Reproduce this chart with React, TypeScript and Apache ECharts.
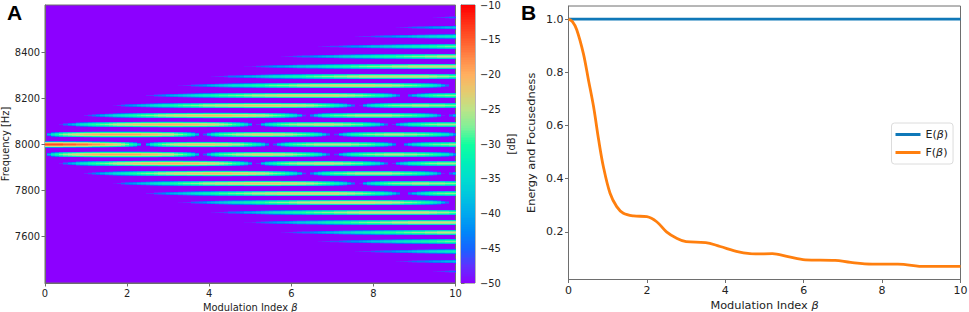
import React, { useEffect, useRef } from "react";
import * as echarts from "echarts";

// Levels [dB]: one list per sideband order |n| (the plot is mirrored about the
// carrier), one value per 0.1 step of beta. Estimated from the colours, the lobe positions and gaps.
const below = (count: number): number[] => new Array(count).fill(-50);

const order0 = [-14,-14,-14,-14,-14,-15,-15,-15,-16,-16,-16,
  -17,-18,-18,-19,-20,-21,-22,-23,-25,-27,
  -30,-33,-39,-50,-40,-34,-31,-29,-27,-26,
  -25,-24,-23,-23,-22,-22,-22,-22,-22,-22,
  -22,-23,-23,-23,-24,-25,-25,-26,-28,-29,
  -31,-33,-36,-42,-50,-45,-38,-35,-32,-30,
  -29,-28,-27,-26,-26,-25,-25,-25,-25,-25,
  -25,-25,-25,-25,-26,-26,-27,-27,-28,-29,
  -31,-32,-34,-37,-42,-50,-50,-42,-38,-35,
  -33,-31,-30,-29,-28,-28,-27,-27,-26,-26];
const order1 = [-50,-40,-34,-31,-28,-26,-25,-24,-23,-22,-21,
  -21,-20,-20,-19,-19,-19,-19,-19,-19,-19,
  -19,-19,-19,-20,-20,-21,-21,-22,-23,-23,
  -24,-26,-27,-29,-31,-34,-39,-50,-45,-38,
  -34,-31,-29,-28,-27,-26,-25,-25,-24,-24,
  -23,-23,-23,-23,-23,-24,-24,-24,-25,-25,
  -26,-27,-28,-29,-30,-32,-34,-38,-43,-50,
  -46,-39,-36,-33,-31,-30,-29,-28,-27,-27,
  -26,-26,-25,-25,-25,-25,-25,-26,-26,-26,
  -27,-27,-28,-29,-30,-31,-33,-34,-37,-41];
const order2 = [...below(4),-48,-44,-41,-39,-36,-34,-33,
  -31,-30,-29,-28,-27,-26,-25,-24,-24,-23,
  -23,-22,-22,-21,-21,-21,-21,-20,-20,-20,
  -20,-20,-20,-21,-21,-21,-21,-22,-22,-23,
  -23,-24,-25,-26,-27,-29,-30,-33,-36,-41,
  -50,-47,-39,-35,-33,-31,-29,-28,-27,-26,
  -26,-25,-25,-25,-25,-24,-24,-24,-24,-24,
  -25,-25,-26,-26,-27,-28,-28,-30,-31,-33,
  -35,-39,-44,-50,-47,-40,-37,-35,-32,-31,
  -30,-29,-28,-27,-27,-26,-26,-26,-26,-26];
const order3 = [...below(10),-48,
  -46,-44,-42,-40,-38,-37,-35,-34,-33,-32,
  -31,-30,-29,-28,-27,-27,-26,-25,-25,-24,
  -24,-23,-23,-23,-22,-22,-22,-22,-21,-21,
  -21,-21,-21,-21,-21,-22,-22,-22,-22,-23,
  -23,-24,-24,-25,-26,-27,-28,-29,-31,-33,
  -35,-39,-46,-50,-43,-38,-35,-32,-31,-29,
  -28,-28,-27,-26,-26,-25,-25,-25,-25,-25,
  -25,-25,-25,-25,-26,-26,-27,-28,-28,-29,
  -30,-31,-33,-35,-37,-41,-48,-50,-44,-39];
const order4 = [...below(17),-49,-47,-45,-43,
  -42,-41,-39,-38,-37,-35,-34,-33,-32,-32,
  -31,-30,-29,-28,-28,-27,-27,-26,-25,-25,
  -25,-24,-24,-24,-23,-23,-23,-23,-22,-22,
  -22,-22,-22,-22,-22,-22,-22,-23,-23,-23,
  -23,-24,-24,-25,-25,-26,-27,-28,-29,-30,
  -32,-34,-36,-40,-44,-50,-48,-40,-36,-34,
  -32,-30,-29,-28,-27,-27,-26,-26,-26,-25,
  -25,-25,-25,-26,-26,-26,-26,-27,-27,-27];
const order5 = [...below(25),-48,-47,-45,-44,-43,-41,
  -40,-39,-38,-37,-36,-35,-34,-33,-32,-32,
  -31,-30,-29,-29,-28,-28,-27,-27,-26,-26,
  -25,-25,-25,-24,-24,-24,-23,-23,-23,-23,
  -23,-23,-23,-23,-23,-23,-23,-23,-23,-23,
  -23,-24,-24,-25,-25,-26,-26,-27,-28,-29,
  -30,-31,-33,-35,-38,-42,-50,-50,-43,-39,
  -36,-34,-32,-30,-29,-28,-28,-27,-27,-27];
const order6 = [...below(33),-49,-48,-47,-45,-44,-43,-42,-40,
  -39,-38,-37,-36,-35,-34,-34,-33,-32,-32,
  -31,-30,-30,-29,-28,-28,-27,-27,-27,-26,
  -26,-25,-25,-25,-24,-24,-24,-24,-24,-23,
  -23,-23,-23,-23,-23,-23,-23,-23,-23,-23,
  -24,-24,-24,-24,-25,-25,-26,-27,-27,-28,
  -29,-30,-31,-32,-34,-36,-40,-44,-50,-50];
const order7 = [...below(41),-49,-48,-47,-46,-44,-44,-43,-42,-40,-40,
  -39,-38,-37,-36,-35,-34,-34,-33,-32,-32,
  -31,-31,-30,-29,-29,-28,-28,-27,-27,-27,
  -26,-26,-26,-25,-25,-25,-24,-24,-24,-24,
  -24,-24,-24,-24,-24,-24,-24,-24,-24,-24,
  -24,-24,-24,-25,-25,-26,-26,-26,-27,-27];
const order8 = [...below(49),-49,-49,
  -48,-46,-45,-44,-43,-42,-41,-41,-40,-39,
  -38,-37,-37,-36,-35,-35,-34,-33,-32,-32,
  -31,-31,-30,-30,-29,-29,-28,-28,-27,-27,
  -27,-26,-26,-26,-25,-25,-25,-25,-24,-24,
  -24,-24,-24,-24,-24,-24,-24,-24,-24,-24];
const order9 = [...below(57),-50,-49,-48,-47,
  -46,-45,-44,-44,-43,-42,-41,-40,-39,-39,
  -38,-37,-36,-36,-35,-34,-34,-33,-33,-32,
  -31,-31,-30,-30,-30,-29,-29,-28,-28,-27,
  -27,-27,-26,-26,-26,-25,-25,-25,-25,-25];
const order10 = [...below(67),-49,-48,-47,-46,
  -46,-45,-44,-43,-42,-42,-41,-40,-39,-38,
  -38,-37,-36,-36,-35,-34,-34,-33,-33,-32,
  -32,-31,-31,-30,-30,-29,-29,-28,-28,-28];
const order11 = [...below(76),-49,-48,-47,-47,-46,
  -45,-44,-43,-43,-42,-41,-40,-40,-39,-38,
  -37,-37,-36,-35,-35,-34,-34,-33,-33,-32];
const order12 = [...below(86),-49,-48,-47,-46,-45,
  -44,-44,-43,-42,-41,-41,-40,-39,-39,-38];
const order13 = [...below(95),-49,-48,-47,-46,-45,-45];
const sidebandLevels = [order0, order1, order2, order3, order4, order5, order6, order7,
  order8, order9, order10, order11, order12, order13];

const betaStep = 0.1;
const carrierHz = 8000;
const sidebandSpacingHz = 42.3;
// Fall-off in dB of a sideband line, one step for each pixel row away from its centre.
const lineRolloffDb = [0, -3, -11, -27];

const rainbowStops = ["#8c00ff","#6030ff","#1565ff","#0088f8","#00a8ee","#00c4e0","#00dcd0","#00f0b8",
  "#10ffa0","#80f098","#bce488","#e4cc70","#ffb060","#ff8848","#ff5c2c","#ff3016","#ff0000"];

const colorbarTicks = [-50,-45,-40,-35,-30,-25,-20,-15,-10];
const betaTicks = [0,2,4,6,8,10];
const freqTicks = [7600,7800,8000,8200,8400];
const scoreTicks = [0.2,0.4,0.6,0.8,1.0];

const energyBeta = [0, 10];
const energy = [1, 1];
const focusBeta = [0,0.1,0.21,0.38,0.51,0.64,0.77,0.89,1.06,1.23,1.4,1.66,2,2.25,2.5,2.77,3,3.5,3.87,4.34,4.77,5.2,5.6,6.04,6.8,7.2,7.75,8.4,9.1,10];
const focus = [1,0.99,0.96,0.87,0.77,0.67,0.545,0.445,0.345,0.295,0.27,0.26,0.257,0.238,0.2,0.175,0.163,0.16,0.145,0.125,0.117,0.118,0.107,0.095,0.093,0.085,0.079,0.079,0.07,0.07];

const FONT = "'DejaVu Sans'";
const INK = "#222";
const SPINE = "#6e6e6e";

function buildCells() {
  const cells: number[][] = [];
  sidebandLevels.forEach((levels, order) => {
    const sides = order === 0 ? [1] : [1, -1];
    sides.forEach((side) => {
      const centre = carrierHz + side * order * sidebandSpacingHz;
      levels.forEach((db, i) => {
        lineRolloffDb.forEach((drop, k) => {
          const rows = k === 0 ? [0] : [k, -k];
          rows.forEach((r) => {
            const v = db + drop;
            if (db > -50 && v > -50) cells.push([i * betaStep, centre, v, r]);
          });
        });
      });
    });
  });
  return cells;
}

function renderCell(_: any, api: any) {
  const b = api.value(0), f = api.value(1), row = api.value(3);
  const a = api.coord([Math.max(0, b - betaStep / 2), f]);
  const c = api.coord([Math.min(10, b + betaStep / 2), f]);
  const x0 = Math.round(a[0]), x1 = Math.round(c[0]);
  const y0 = Math.floor(a[1]) + row;
  return {
    type: "rect",
    shape: { x: x0, y: y0, width: x1 - x0, height: 1 },
    style: { fill: api.visual("color") },
  };
}

function renderBar(_: any, api: any) {
  const db = api.value(1);
  const a = api.coord([0, Math.min(-10, db + 0.125)]);
  const c = api.coord([1, Math.max(-50, db - 0.125)]);
  const y0 = Math.floor(a[1]), y1 = Math.ceil(c[1]);
  return {
    type: "rect",
    shape: { x: a[0], y: y0, width: c[0] - a[0], height: y1 - y0 },
    style: { fill: api.visual("color") },
  };
}

const minus = (v: number) => String(v).replace("-", "\u2212");

export default function App() {
  const ref = useRef<HTMLDivElement>(null);
  useEffect(() => {
    if (!ref.current) return;
    const chart = echarts.init(ref.current, undefined, { renderer: "svg" });
    const barCells: number[][] = [];
    for (let k = 0; k <= 160; k++) barCells.push([0.5, -50 + k * 0.25, -50 + k * 0.25]);
    const tickLabel = (size: number) => ({ color: INK, fontFamily: FONT, fontSize: size, margin: 5 });
    const line = { show: true, lineStyle: { color: SPINE, width: 1 } };
    const tick = (values: number[]) => ({ show: true, length: 3.5, lineStyle: { color: SPINE, width: 1 }, customValues: values });
    chart.setOption({
      animation: false,
      backgroundColor: "#fff",
      textStyle: { fontFamily: FONT },
      grid: [
        { left: 45, top: 5, width: 410.5, height: 278, outerBoundsMode: "none", show: true, backgroundColor: "#8c00ff", borderColor: SPINE, borderWidth: 1 },
        { left: 461, top: 5, width: 14, height: 278, outerBoundsMode: "none", show: true, backgroundColor: "#8c00ff", borderColor: SPINE, borderWidth: 1 },
        { left: 568.5, top: 6, width: 392, height: 273.5, outerBoundsMode: "none", show: true, backgroundColor: "#fff", borderColor: SPINE, borderWidth: 1 },
      ],
      xAxis: [
        {
          gridIndex: 0, type: "value", min: 0, max: 10, axisLine: line, axisTick: tick(betaTicks), splitLine: { show: false },
          axisLabel: { ...tickLabel(9.9), customValues: betaTicks },
          name: "Modulation Index {i|\u03b2}", nameLocation: "middle", nameGap: 15,
          nameTextStyle: { color: INK, fontFamily: FONT, fontSize: 9.9, rich: { i: { fontStyle: "italic", fontSize: 9.9, fontFamily: FONT, color: INK } } },
        },
        { gridIndex: 1, type: "value", min: 0, max: 1, show: false },
        {
          gridIndex: 2, type: "value", min: 0, max: 10, axisLine: line, axisTick: tick(betaTicks), splitLine: { show: false },
          axisLabel: { ...tickLabel(11), customValues: betaTicks },
          name: "Modulation Index {i|\u03b2}", nameLocation: "middle", nameGap: 18,
          nameTextStyle: { color: INK, fontFamily: FONT, fontSize: 11.3, rich: { i: { fontStyle: "italic", fontSize: 11.3, fontFamily: FONT, color: INK } } },
        },
      ],
      yAxis: [
        {
          gridIndex: 0, type: "value", min: 7399, max: 8604, axisLine: line, axisTick: tick(freqTicks), splitLine: { show: false },
          axisLabel: { ...tickLabel(9.9), customValues: freqTicks, formatter: (v: number) => String(v) },
          name: "Frequency [Hz]", nameLocation: "middle", nameGap: 33,
          nameTextStyle: { color: INK, fontFamily: FONT, fontSize: 9.9 },
        },
        {
          gridIndex: 1, type: "value", position: "right", min: -50, max: -10, interval: 5, axisLine: line, axisTick: tick(colorbarTicks), splitLine: { show: false },
          axisLabel: { ...tickLabel(9.9), customValues: colorbarTicks, formatter: (v: number) => minus(v) },
          name: "[dB]", nameLocation: "middle", nameGap: 31, nameRotate: 90,
          nameTextStyle: { color: INK, fontFamily: FONT, fontSize: 9.9 },
        },
        {
          gridIndex: 2, type: "value", min: 0.021, max: 1.049, axisLine: line, axisTick: tick(scoreTicks), splitLine: { show: false },
          axisLabel: { ...tickLabel(11), customValues: scoreTicks, formatter: (v: number) => v.toFixed(1) },
          name: "Energy and Focusedness", nameLocation: "middle", nameGap: 32,
          nameTextStyle: { color: INK, fontFamily: FONT, fontSize: 11.3 },
        },
      ],
      visualMap: {
        show: false, type: "continuous", seriesIndex: [0, 1], dimension: 2, min: -50, max: -10,
        inRange: { color: rainbowStops },
      },
      legend: {
        left: 891.5, top: 123, orient: "vertical", icon: "rect", itemWidth: 25, itemHeight: 3, itemGap: 7,
        padding: [6, 5, 6, 4], backgroundColor: "#fff", borderColor: "#dcdcdc", borderWidth: 1, borderRadius: 3,
        selectedMode: false,
        data: ["E(\u03b2)", "F(\u03b2)"],
        formatter: (name: string) => `${name[0]}({i|\u03b2})`,
        textStyle: { color: INK, fontFamily: FONT, fontSize: 11, rich: { i: { fontStyle: "italic", fontSize: 11, fontFamily: FONT, color: INK } } },
      },
      graphic: [
        { type: "text", left: 7, top: 2, style: { text: "A", font: "bold 21px 'Liberation Sans'", fill: "#000" } },
        { type: "text", left: 521, top: 2, style: { text: "B", font: "bold 21px 'Liberation Sans'", fill: "#000" } },
      ],
      series: [
        { type: "custom", xAxisIndex: 0, yAxisIndex: 0, coordinateSystem: "cartesian2d", clip: true, silent: true, renderItem: renderCell, encode: { x: 0, y: 1 }, data: buildCells() },
        { type: "custom", xAxisIndex: 1, yAxisIndex: 1, coordinateSystem: "cartesian2d", clip: true, silent: true, renderItem: renderBar, encode: { x: 0, y: 1 }, data: barCells },
        { type: "line", name: "E(\u03b2)", xAxisIndex: 2, yAxisIndex: 2, showSymbol: false, lineStyle: { color: "#0f78b8", width: 2.8 }, itemStyle: { color: "#0f78b8" }, data: energyBeta.map((b, i) => [b, energy[i]]) },
        { type: "line", name: "F(\u03b2)", xAxisIndex: 2, yAxisIndex: 2, showSymbol: false, smooth: 0.35, lineStyle: { color: "#ff7f0e", width: 2.8 }, itemStyle: { color: "#ff7f0e" }, data: focusBeta.map((b, i) => [b, focus[i]]) },
      ],
    });
    return () => chart.dispose();
  }, []);
  return <div ref={ref} style={{ position: "fixed", left: 0, top: 0, width: 969, height: 312, background: "#fff" }} />;
}
